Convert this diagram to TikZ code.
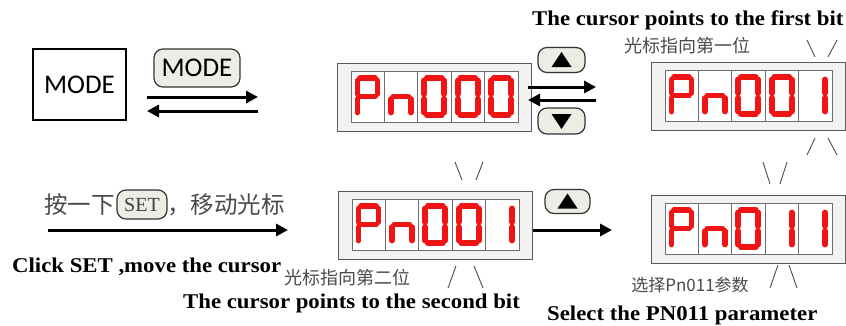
\documentclass[tikz,border=0pt]{standalone}
\usepackage{fontspec}
\setmainfont{Liberation Serif}
\newfontfamily\enfont[FakeStretch=1.085]{Liberation Serif}
\newfontfamily\cjk{Noto Sans CJK SC}
\newfontfamily\calfont{Carlito}
\usetikzlibrary{arrows.meta}
\definecolor{segred}{HTML}{F01414}
\definecolor{btnfill}{HTML}{EDEDE5}
\definecolor{dispfill}{HTML}{F2F2F2}
\definecolor{cellline}{HTML}{6E6E6E}
\definecolor{cjkgray}{HTML}{4A4A4A}
\tikzset{
  seg/.style={segred, line width=5.8, line cap=round},
  arr/.style={line width=3, -{Triangle[length=12,width=12]}},
  dispbox/.style={draw=gray!70!black, fill=dispfill, line width=1.3, minimum width=194, minimum height=68, inner sep=0, anchor=north west},
  cellst/.style={draw=cellline, fill=white, line width=0.9},
  btn/.style={draw=black!80, fill=btnfill, line width=1.2, rounded corners=9, inner sep=0},
  modebox/.style={draw, line width=2.6, minimum width=93, minimum height=71, inner sep=0, font=\calfont\fontsize{27}{30}\selectfont},
  cursormark/.style={draw=black!70, line width=0.9},
  cjktext/.style={text=cjkgray, inner sep=0, font=\cjk\fontsize{18}{20}\selectfont},
  entext/.style={inner sep=0, font=\enfont\bfseries\fontsize{21}{24}\selectfont},
}
% digits, origin = top-left of cell
\newcommand\dgP[1]{\draw[seg,shift={#1}] (9,7)--(24,7) (26.5,9.5)--(26.5,23) (6.5,9.5)--(6.5,23) (9,25.5)--(24,25.5) (6.5,28)--(6.5,41.5);}
\newcommand\dgN[1]{\draw[seg,shift={#1}] (9,25.5)--(24,25.5) (6.5,28)--(6.5,41.5) (26.5,28)--(26.5,41.5);}
\newcommand\dgZ[1]{\draw[seg,shift={#1}] (9,7)--(24,7) (26.5,9.5)--(26.5,23) (6.5,9.5)--(6.5,23) (6.5,28)--(6.5,41.5) (26.5,28)--(26.5,41.5) (9,44)--(24,44);}
\newcommand\dgO[1]{\draw[seg,shift={#1}] (26.5,9.5)--(26.5,23) (26.5,28)--(26.5,41.5);}
\newcommand\display[8]{%
  \node[dispbox] (#1) at (#2,#3) {};
  \begin{scope}[shift={(#2,#3)}]
    \foreach \i in {0,...,4} \draw[cellst] (14+33.4*\i,8) rectangle ++(33.4,51);
    #4{(14,8)} #5{(47.4,8)} #6{(80.8,8)} #7{(114.2,8)} #8{(147.6,8)}
  \end{scope}}
\begin{document}
\begin{tikzpicture}[x=1pt,y=-1pt]
\useasboundingbox (0,0) rectangle (846,325);
% top row
\node[modebox] (mode) at (79.5,84.5) {MODE};
\node[btn, minimum width=86, minimum height=38, font=\calfont\fontsize{27}{30}\selectfont] (modebtn) at (197,68) {MODE};
\coordinate (m1) at (147,97); \coordinate (m2) at (258,97);
\coordinate (m3) at (258,111); \coordinate (m4) at (147,111);
\draw[arr] (m1) -- (m2);
\draw[arr] (m3) -- (m4);
\display{d1}{337}{63}{\dgP}{\dgN}{\dgZ}{\dgZ}{\dgZ}
\node[btn, minimum width=47, minimum height=25] (up1) at (561.5,60) {};
\fill[shift={(up1.center)}] (-10,7) -- (10,7) -- (0,-8) -- cycle;
\node[btn, minimum width=47, minimum height=26] (dn1) at (561.5,121) {};
\fill[shift={(dn1.center)}] (-10,-7) -- (10,-7) -- (0,8) -- cycle;
\coordinate (a1) at (528,87); \coordinate (a2) at (596,87);
\coordinate (a3) at (596,100); \coordinate (a4) at (528,100);
\draw[arr] (a1) -- (a2);
\draw[arr] (a3) -- (a4);
\node[entext, anchor=base west] (t1) at (532,25) {The cursor points to the first bit};
\node[cjktext] (c1) at (687,46) {光标指向第一位};
\display{d2}{651}{62}{\dgP}{\dgN}{\dgZ}{\dgZ}{\dgO}
\draw[cursormark] (807,40) -- (815,57) (828,57) -- (837,40);
\draw[cursormark] (807,155) -- (815,138) (828,138) -- (837,155);
% bottom row
\node[cjktext, anchor=east, font=\cjk\fontsize{23.5}{26}\selectfont] (c2) at (115,205) {按一下};
\node[btn, minimum width=50, minimum height=29, text=black!75, font=\fontsize{20}{22}\selectfont] (setbtn) at (142,204.5) {SET};
\node[cjktext, anchor=west, font=\cjk\fontsize{23.5}{26}\selectfont] (c3) at (167,205) {，移动光标};
\coordinate (s1) at (48,230); \coordinate (s2) at (288,230);
\draw[arr] (s1) -- (s2);
\node[entext, anchor=base west] (t2) at (12,272) {Click SET ,move the cursor};
\display{d3}{338}{191}{\dgP}{\dgN}{\dgZ}{\dgZ}{\dgO}
\draw[cursormark] (455,162) -- (462,180) (476,180) -- (483,162);
\draw[cursormark] (448,288) -- (456,266) (474,266) -- (483,288);
\node[cjktext] (c4) at (347,278) {光标指向第二位};
\node[entext, anchor=base west] (t3) at (183,308) {The cursor points to the second bit};
\node[btn, minimum width=45, minimum height=24] (up2) at (567.5,201.5) {};
\fill[shift={(up2.center)}] (-10,7) -- (10,7) -- (0,-8) -- cycle;
\coordinate (b1) at (d3.east |- 0,230); \coordinate (b2) at (612,230);
\draw[arr] (b1) -- (b2);
\display{d4}{651}{195}{\dgP}{\dgN}{\dgZ}{\dgO}{\dgO}
\draw[cursormark] (763,162) -- (770,184) (780,184) -- (787,162);
\draw[cursormark] (770,288) -- (778,265) (789,265) -- (797,288);
\node[cjktext, font=\cjk\fontsize{17}{19}\selectfont] (c5) at (690,285) {选择Pn011参数};
\node[entext, anchor=base west] (t4) at (547,320) {Select the PN011 parameter};
\end{tikzpicture}
\end{document}
